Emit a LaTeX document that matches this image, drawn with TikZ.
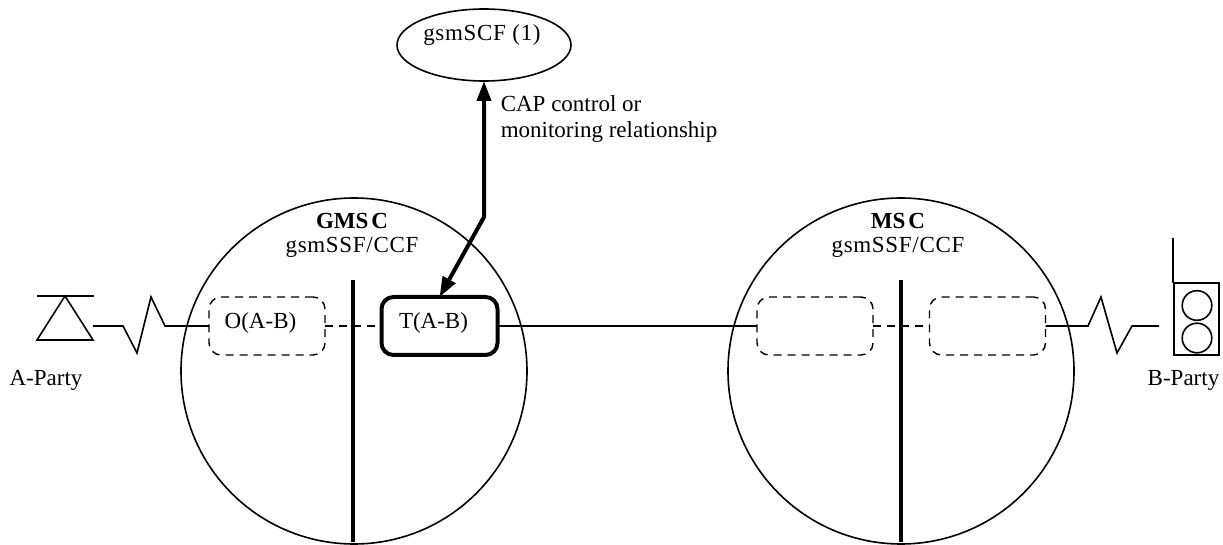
\documentclass[tikz,border=0pt]{standalone}
\usepackage{fontspec}
\setmainfont{Liberation Serif}
\usetikzlibrary{arrows.meta,shapes.geometric}
\newcommand{\gsmfont}{\addfontfeature{LetterSpace=3}}
\tikzset{
  msccircle/.style={circle,draw=black,line width=0.8pt,inner sep=0pt,outer sep=0pt,minimum size=173pt},
  bcsmbox/.style={rectangle,draw=black,dashed,dash pattern=on 4pt off 3pt,line width=0.7pt,rounded corners=6pt,inner sep=0pt,outer sep=0pt,minimum width=58pt,minimum height=29pt},
  labeltext/.style={inner sep=0pt,font=\fontsize{11.5}{12.6}\selectfont,align=center},
  nametext/.style={labeltext,font=\fontsize{11.5}{11.9}\selectfont}
}
\begin{document}
\begin{tikzpicture}[x=0.5pt,y=-0.5pt,line width=0.8pt,line join=miter]
\useasboundingbox (0,0) rectangle (1223,545);

\node[ellipse,draw=black,inner sep=0pt,outer sep=0pt,minimum width=87pt,minimum height=36pt] (scf) at (484,45) {};
\node[labeltext] (scftext) at (482,35) {\gsmfont gsmSCF (1)};
\node[labeltext,anchor=west,align=left] (captext) at (500,119) {CAP control or\\monitoring relationship};

\node[msccircle] (gmsc) at (354,371) {};
\node[msccircle] (msc) at (901,371) {};
\node[nametext] (gmsctext) at (352,235) {\textbf{GMS\kern1.5pt C}\\\gsmfont gsmSSF/CCF};
\node[nametext] (msctext) at (898,235) {\textbf{MS\kern1.5pt C}\\\gsmfont gsmSSF/CCF};

% split bars
\coordinate (gmsctop) at (353,280);
\coordinate (gmscbot) at (353,542);
\coordinate (msctop) at (901,280);
\coordinate (mscbot) at (901,542);
\draw[line width=2pt] (gmsctop)--(gmscbot);
\draw[line width=2pt] (msctop)--(mscbot);

\node[bcsmbox] (oab) at (267,326) {};
\node[bcsmbox,solid,line width=2pt] (tab) at (439.5,326) {};
\node[bcsmbox] (left) at (815,326) {};
\node[bcsmbox] (right) at (987.5,326) {};
\node[labeltext] (oabtext) at (260.5,323) {O(A-B)};
\node[labeltext] (tabtext) at (433.5,323) {T(A-B)};

\draw[dashed,dash pattern=on 4pt off 3pt] (oab)--(tab);
\draw (tab)--(left);
\draw[dashed,dash pattern=on 4pt off 3pt] (left)--(right);

% A party
\coordinate (aend) at (93,326);
\draw (37,296)--(94,296);
\draw (65,296)--(93,340)--(37,340)--cycle;
\draw (aend)--(123,326)--(137,353)--(151,297)--(165,326)--(oab);
\node[labeltext] (atext) at (46,380) {A-Party};

% B party
\coordinate (bend) at (1159,326);
\draw (right)--(1088,326)--(1101,297)--(1117,353)--(1132,326)--(bend);
\draw (1173,238)--(1173,283);
\draw (1174,283) rectangle (1219,355);
\draw (1197,305.5) circle[radius=7.4pt];
\draw (1197,338) circle[radius=7.4pt];
\node[labeltext] (btext) at (1183.5,380) {B-Party};

\coordinate (cap) at (484,217);
\draw[{Triangle[length=10pt,width=7pt]}-{Triangle[length=10pt,width=7pt]},line width=2pt] (scf.south)--(cap)--(tab.north);
\end{tikzpicture}
\end{document}
